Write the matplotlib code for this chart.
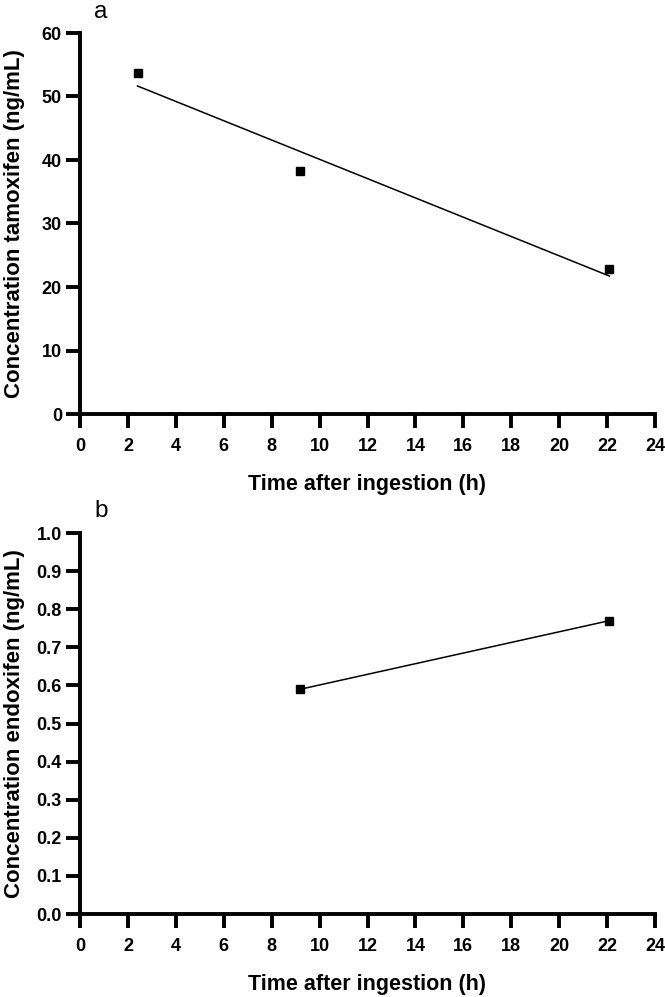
import numpy as np
import matplotlib
matplotlib.use("Agg")
import matplotlib.pyplot as plt
from matplotlib import font_manager

# Data
time_a = [2.4, 9.2, 22.1]
tamoxifen = [53.7, 38.2, 22.8]
time_b = [9.2, 22.1]
endoxifen = [0.59, 0.77]
xticks = list(range(0, 25, 2))
yticks_a = list(range(0, 61, 10))
yticks_b = [round(0.1 * i, 1) for i in range(11)]

names = {f.name for f in font_manager.fontManager.ttflist}
narrow = "Liberation Sans Narrow" if "Liberation Sans Narrow" in names else "Liberation Sans"
wide = "Liberation Sans"

W, H = 665, 997
fig = plt.figure(figsize=(W / 100, H / 100), dpi=100)
ax_h = 381 / H
ax_a = fig.add_axes([80 / W, 1 - 414 / H, 575 / W, ax_h])
ax_b = fig.add_axes([80 / W, 1 - 914 / H, 575 / W, ax_h])

def style(ax, yticks, yfmt, ylabel):
    ax.set_xlim(0, 24)
    ax.set_xticks(xticks)
    ax.set_xticklabels([str(t) for t in xticks], fontfamily=narrow, fontweight="bold", fontsize=13)
    ax.set_ylim(yticks[0], yticks[-1])
    ax.set_yticks(yticks)
    ax.set_yticklabels([yfmt.format(t) for t in yticks], fontfamily=narrow, fontweight="bold", fontsize=13)
    for s in ["top", "right"]:
        ax.spines[s].set_visible(False)
    for s in ["left", "bottom"]:
        ax.spines[s].set_linewidth(2.8)
        ax.spines[s].set_capstyle("projecting")
    ax.tick_params(direction="out", length=10, width=2.8, colors="black")
    ax.tick_params(axis="x", pad=7)
    ax.tick_params(axis="y", pad=3)
    ax.set_xlabel("Time after ingestion (h)", fontfamily=narrow, fontweight="bold", fontsize=15.5)
    ax.xaxis.set_label_coords(0.5, -70 / 381)
    ax.xaxis.label.set_va("center")
    ax.set_ylabel(ylabel, fontfamily=wide, fontweight="bold", fontsize=16)
    ax.yaxis.set_label_coords(-65 / 575, 0.5)
    ax.yaxis.label.set_va("center")
    for l in ax.get_xticklabels() + ax.get_yticklabels():
        l.set_clip_on(False)

# Panel a
ax_a.plot(time_a, tamoxifen, "s", color="black", markersize=6, clip_on=False)
coef = np.polyfit(time_a, tamoxifen, 1)
fx = np.array([min(time_a), max(time_a)])
ax_a.plot(fx, np.polyval(coef, fx), color="black", linewidth=1.1)
style(ax_a, yticks_a, "{:d}", "Concentration tamoxifen (ng/mL)")

# Panel b
ax_b.plot(time_b, endoxifen, "s-", color="black", markersize=6, linewidth=1.1, clip_on=False)
style(ax_b, yticks_b, "{:.1f}", "Concentration endoxifen (ng/mL)")

fig.text(101 / W, 1 - 0.5 / H, "a", fontfamily=wide, fontsize=17.5, ha="center", va="top")
fig.text(101 / W, 1 - 517 / H, "b", fontfamily=wide, fontsize=17.5, ha="center", va="baseline")

fig.savefig("out.png", dpi=100)
